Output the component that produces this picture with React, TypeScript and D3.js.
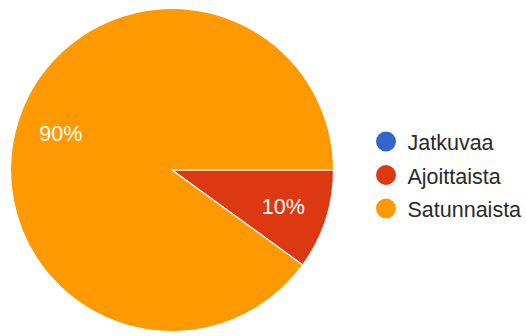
import React from "react";
import * as d3 from "d3";

const categories = ["Jatkuvaa", "Ajoittaista", "Satunnaista"];
const values = [0, 10, 90];
const colors = ["#3366cc", "#dc3912", "#ff9900"];

export default function App() {
  const width = 526;
  const height = 336;
  const cx = 172;
  const cy = 170;
  const R = 161.5;
  const labelR = 117;

  const total = d3.sum(values);
  const pie = d3
    .pie<number>()
    .sort(null)
    .value((d) => d)
    .startAngle(Math.PI / 2)
    .endAngle(Math.PI / 2 + 2 * Math.PI);
  const arcs = pie(values);
  const arc = d3.arc<d3.PieArcDatum<number>>().innerRadius(0).outerRadius(R);
  const labelArc = d3
    .arc<d3.PieArcDatum<number>>()
    .innerRadius(labelR)
    .outerRadius(labelR);

  const legendY = d3
    .scalePoint<string>()
    .domain(categories)
    .range([141.5, 208.5]);

  const font = "Arial, 'Liberation Sans', sans-serif";

  return (
    <svg
      width={width}
      height={height}
      style={{ position: "absolute", left: 0, top: 0, background: "#fff" }}
    >
      <g transform={`translate(${cx},${cy})`}>
        {arcs.map((a, i) =>
          a.value > 0 ? (
            <path
              key={i}
              d={arc(a) || ""}
              fill={colors[i]}
              stroke="#fff"
              strokeWidth={1.2}
            />
          ) : null
        )}
        {arcs.map((a, i) => {
          if (a.value <= 0) return null;
          const [x, y] = labelArc.centroid(a);
          return (
            <text
              key={"l" + i}
              x={x}
              y={y + 7.5}
              textAnchor="middle"
              fill="#fff"
              fontFamily={font}
              fontSize={21.5}
            >
              {Math.round((a.value / total) * 100)}%
            </text>
          );
        })}
      </g>
      <g>
        {categories.map((c, i) => {
          const y = legendY(c) as number;
          return (
            <g key={c}>
              <circle cx={386} cy={y} r={10} fill={colors[i]} />
              <text
                x={407.5}
                y={y + 8.5}
                fill="#2a2a2a"
                fontFamily={font}
                fontSize={21.5}
              >
                {c}
              </text>
            </g>
          );
        })}
      </g>
    </svg>
  );
}
